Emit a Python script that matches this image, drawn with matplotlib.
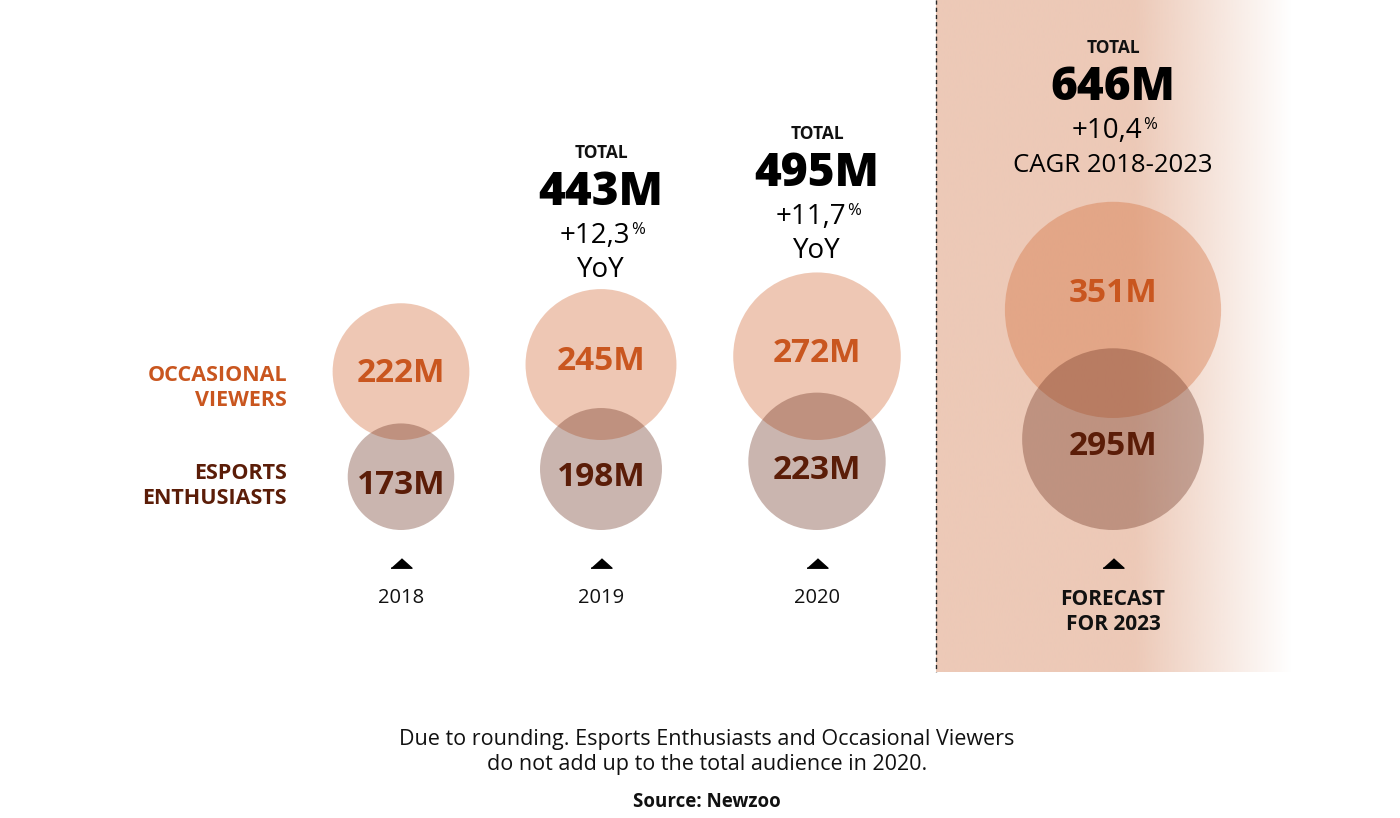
import numpy as np
import matplotlib
matplotlib.use("Agg")
import matplotlib.pyplot as plt
from matplotlib.patches import Circle

# ---------------- data ----------------
years = ["2018", "2019", "2020", "FORECAST\nFOR 2023"]
occasional = [222, 245, 272, 351]
enthusiasts = [173, 198, 223, 295]
totals = [None, 443, 495, 646]
growth = [None, "+12,3", "+11,7", "+10,4"]
growth_label = [None, "YoY", "YoY", "CAGR 2018-2023"]
series_labels = ["OCCASIONAL\nVIEWERS", "ESPORTS\nENTHUSIASTS"]

# ---------------- layout (pixel space) ----------------
W, H = 1400, 818
col_x = [401, 601, 817, 1113]
px_per_m = 0.308            # circle radius in px per million
ent_bottom = 530
occ_bottom = [440, 440, 440, 418]
occ_label_dy = [2, -3, -3, -16]
ent_label_dy = [9, 8, 9, 7]
header_top = [None, 153, 134, 48]

ORANGE = "#C9561F"
BROWN = "#5B1D08"
OCC_FILL = (0.83, 0.43, 0.23)
ENT_FILL = (0.43, 0.20, 0.13)
PANEL = np.array([237, 201, 183]) / 255.0

plt.rcParams["font.family"] = ["Open Sans", "DejaVu Sans"]

fig = plt.figure(figsize=(W / 100, H / 100), dpi=100)
ax = fig.add_axes([0, 0, 1, 1])

def pt(px):
    return px * 0.72

# forecast panel with gradient fade to the right
pan_l, pan_r, pan_b = 936, 1292, 672
xs = np.linspace(pan_l, pan_r, 400)
fade = np.clip((pan_r - xs) / (pan_r - 1135), 0, 1)
img = np.ones((1, len(xs), 4))
img[0, :, :3] = PANEL
img[0, :, 3] = fade
ax.imshow(img, extent=(pan_l, pan_r, pan_b, 0), aspect="auto",
          interpolation="bilinear", zorder=0)
ax.set_xlim(0, W)
ax.set_ylim(H, 0)
ax.axis("off")
ax.plot([pan_l, pan_l], [0, pan_b], color="#2a2a2a", lw=1.0,
        dashes=(3, 2.2), zorder=1)

for i, x in enumerate(col_x):
    r_o = occasional[i] * px_per_m
    r_e = enthusiasts[i] * px_per_m
    cy_o = occ_bottom[i] - r_o
    cy_e = ent_bottom - r_e
    ax.add_patch(Circle((x, cy_o), r_o, facecolor=OCC_FILL, alpha=0.38,
                        edgecolor="none", zorder=2))
    ax.add_patch(Circle((x, cy_e), r_e, facecolor=ENT_FILL, alpha=0.36,
                        edgecolor="none", zorder=3))
    ax.text(x, cy_o + occ_label_dy[i], f"{occasional[i]}M", color=ORANGE,
            fontsize=24, fontweight="bold", ha="center", va="center", zorder=5)
    ax.text(x, cy_e + ent_label_dy[i], f"{enthusiasts[i]}M", color=BROWN,
            fontsize=24, fontweight="bold", ha="center", va="center", zorder=5)
    # upward triangle marker (marker space is display space, y up)
    ax.plot([x], [563], marker=[(-1, -0.45), (1, -0.45), (0, 0.45)],
            markersize=pt(21), color="black", linestyle="none", zorder=5)
    # year label
    if i < 3:
        ax.text(x, 598, years[i], fontsize=14.5, ha="center", va="center",
                color="#111111", zorder=5)
    else:
        ax.text(x, 612, years[i], fontsize=15, fontweight="bold", ha="center",
                va="center", color="#111111", linespacing=1.3, zorder=5)

fig.canvas.draw()
renderer = fig.canvas.get_renderer()
inv = ax.transData.inverted()

for i, x in enumerate(col_x):
    if totals[i] is None:
        continue
    y0 = header_top[i]
    ax.text(x, y0, "TOTAL", fontsize=12.5, fontweight="bold", ha="center",
            va="center", color="#111111", zorder=5)
    ax.text(x, y0 + 40, f"{totals[i]}M", fontsize=33, fontweight="heavy",
            ha="center", va="center", color="black", zorder=5)
    # growth with superscript percent
    pct = ax.text(0, 0, "%", fontsize=12)
    pw = pct.get_window_extent(renderer).width
    pct.remove()
    main = ax.text(x - pw / 2 + 1, y0 + 83, growth[i], fontsize=20,
                   ha="center", va="center", color="black", zorder=5)
    bb = main.get_window_extent(renderer)
    rx = inv.transform((bb.x1, bb.y1))[0]
    ax.text(rx + 0.5, y0 + 77, "%", fontsize=12, ha="left", va="center",
            color="black", zorder=5)
    fs = 20 if growth_label[i] == "YoY" else 18.5
    ax.text(x, y0 + 117, growth_label[i], fontsize=fs, ha="center",
            va="center", color="black", zorder=5)

# series labels
ax.text(287, 388, series_labels[0], color=ORANGE, fontsize=15.5,
        fontweight="bold", ha="right", va="center", linespacing=1.28)
ax.text(287, 486, series_labels[1], color=BROWN, fontsize=15.5,
        fontweight="bold", ha="right", va="center", linespacing=1.28)

# footnote
ax.text(707, 752, "Due to rounding. Esports Enthusiasts and Occasional Viewers\n"
        "do not add up to the total audience in 2020.", fontsize=15.5,
        ha="center", va="center", color="#111111", linespacing=1.3)
ax.text(707, 802, "Source: Newzoo", fontsize=13.5, fontweight="bold",
        ha="center", va="center", color="#111111")

fig.savefig("out.png", dpi=100, facecolor="white")
